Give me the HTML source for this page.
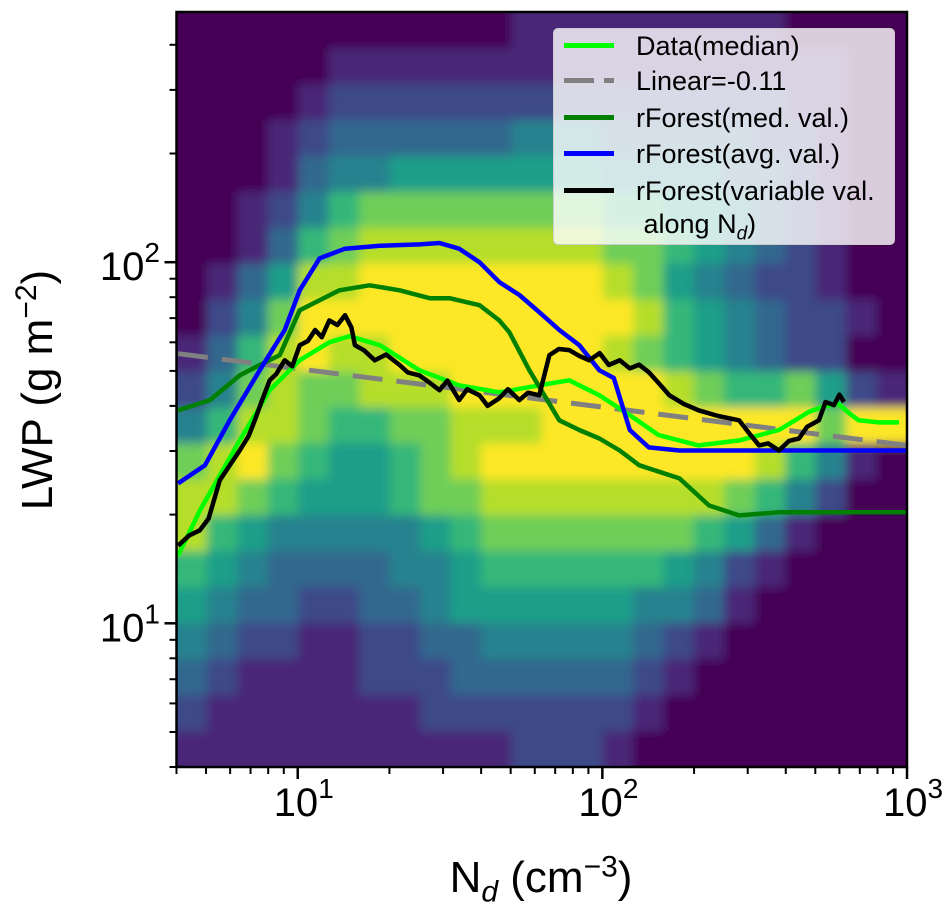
<!DOCTYPE html>
<html><head><meta charset="utf-8"><style>
body{margin:0;background:#fff;font-family:"Liberation Sans","DejaVu Sans",sans-serif}
svg{display:block}
.lg{position:absolute;left:10px;white-space:nowrap;line-height:32px}
.sw{display:inline-block;width:50px;height:5px;vertical-align:middle;margin-right:22px;position:relative;top:-2px}
</style></head><body>
<svg id="chart" width="951" height="908" xmlns="http://www.w3.org/2000/svg">
<defs><filter id="blur" x="-5%" y="-5%" width="110%" height="110%"><feGaussianBlur stdDeviation="5"/></filter>
<clipPath id="clip"><rect x="176.5" y="12" width="730.5" height="755"/></clipPath></defs>
</svg>
<script>
// heatmap grid: rows top->bottom, cols left->right, density level 0-9
const heatRows = [
"000000000001111111110000",
"000001111111111111111100",
"000012222222222222221100",
"000123333334443333322100",
"000134455555554444332100",
"001246777777776655432100",
"001367888888887765432100",
"013588999999998754322100",
"024799999999999865432210",
"136898899999998765432200",
"247877888999999987667521",
"468876677888999999999799",
"789765567899999999986410",
"887655567788888888764200",
"865444445677777776531000",
"654333344566666654210000",
"543322334555555443100000",
"432211223344444321000000",
"321111222333333210000000",
"211111112222222100000000",
"111111111112221000000000"];
const heatXmin = 4.0, heatXmax = 1000, heatYmin = 4.0, heatYmax = 493;
const viridis = ["#440154","#482878","#3e4a89","#31688e","#26828e","#1f9e89","#35b779","#6ece58","#b5de2b","#fde725"];

const limeX = [4.05,4.77,6.45,8.09,10.15,12.7,14.8,18.6,25.1,33.9,45.9,62.1,77.8,97.8,123,153,207,281,380,476,540,596,650,694,808,941];
const limeY = [15.4,20.5,32.1,44.2,53.5,60.0,62.4,58.9,50.2,45.6,43.6,45.6,47.1,42.8,37.7,33.2,31.1,32.1,34.3,38.5,40.0,40.5,38.0,36.5,36.0,36.0];
const blueX = [4.05,4.96,5.98,7.5,9.06,10.15,11.8,14.3,18.6,25.1,29.2,33.9,39.5,45.9,53.4,62.1,72.2,84.0,97.8,109,123,142,179,1000];
const blueY = [24.4,27.4,36.5,50.2,64.9,83.6,102.5,109,111,112,113,109,100,88.1,81.1,72.7,64.9,58.9,50.2,47.8,34.3,30.7,30.1,30.1];
const greenX = [4.05,5.15,6.45,7.5,8.73,10.15,11.8,13.7,17.2,21.6,27.1,31.5,39.5,45.9,49.5,57.6,72.2,84.0,97.8,114,132,179,224,281,380,1000];
const greenY = [38.9,41.5,48.6,51.9,55.3,73.6,78.5,83.6,86.3,83.6,79.5,79.5,76.0,69.0,64.0,50.2,36.5,34.3,32.5,30.1,27.4,25.2,21.2,19.9,20.3,20.3];
const blackX = [4.05,4.4,4.77,5.1,5.55,6.0,6.45,6.9,7.23,7.6,8.09,8.5,9.06,9.6,10.15,10.8,11.4,12.0,12.7,13.5,14.3,15.0,15.4,16.5,17.9,19.5,21.6,23.0,25.1,27.0,29.2,31.0,33.9,36.0,39.5,42.0,45.9,49.0,53.4,57.0,62.1,65.0,67,72,77.8,84,90.5,98,105,114,123,132,142,154,166,185,207,240,281,300,327,350,380,410,442,470,514,540,576,600,621];
const blackY = [16.4,17.5,18.1,19.5,24.9,27.5,30.1,33.0,36.5,41.0,47.1,49.0,53.5,51.5,58.9,60.5,64.9,62.0,69.0,67.0,71.3,66.0,58.9,57.0,53.5,55.5,51.9,49.5,48.6,46.5,44.2,47.0,41.5,44.5,42.8,40.0,42.0,44.5,41.5,43.5,42.8,50.0,55.3,57.5,57.1,55.0,53.5,56.0,51.9,53.5,50.8,52.0,49.6,46.0,42.8,40.5,38.9,37.5,36.5,34.0,31.1,31.5,30.1,32.0,32.5,35.0,36.5,41.0,40.2,43.0,41.0];
const linearX = [4.05,1000];
const linearY = [55.8,31.1];
const xTickVals = [10,100,1000];
const yTickVals = [10,100];

const L=176.5,R=907,T=12,B=767;
const xlo=Math.log10(4.0), xhi=Math.log10(1000), ylo=Math.log10(4.0), yhi=Math.log10(493);
const sx=v=>L+(Math.log10(v)-xlo)/(xhi-xlo)*(R-L);
const sy=v=>B-(Math.log10(v)-ylo)/(yhi-ylo)*(B-T);
const NS="http://www.w3.org/2000/svg";
const svg=document.getElementById('chart');
function mk(tag,attrs,parent){const e=document.createElementNS(NS,tag);for(const k in attrs)e.setAttribute(k,attrs[k]);(parent||svg).appendChild(e);return e;}

const bg=mk('rect',{x:L,y:T,width:R-L,height:B-T,fill:'#440154'});


const clipG=mk('g',{'clip-path':'url(#clip)'});
const heat=mk('g',{filter:'url(#blur)'},clipG);


const nr=heatRows.length, nc=heatRows[0].length;
const lx0=Math.log10(heatXmin), lx1=Math.log10(heatXmax), ly0=Math.log10(heatYmin), ly1=Math.log10(heatYmax);
for(let r=0;r<nr;r++)for(let c=0;c<nc;c++){
  let xa=sx(Math.pow(10,lx0+(lx1-lx0)*c/nc)), xb=sx(Math.pow(10,lx0+(lx1-lx0)*(c+1)/nc));
  let ya=sy(Math.pow(10,ly1-(ly1-ly0)*r/nr)), yb=sy(Math.pow(10,ly1-(ly1-ly0)*(r+1)/nr));
  if(c===0)xa-=15; if(c===nc-1)xb+=15; if(r===0)ya-=15; if(r===nr-1)yb+=15;
  const cell=mk('rect',{x:xa,y:ya,width:xb-xa+0.5,height:yb-ya+0.5,fill:viridis[+heatRows[r][c]]},heat);
  
  
}
function line(xs,ys,color,w,name,dash){
  const d=xs.map((x,i)=>(i?'L':'M')+sx(x).toFixed(1)+','+sy(ys[i]).toFixed(1)).join(' ');
  const p=mk('path',{d:d,fill:'none',stroke:color,'stroke-width':w,'stroke-linejoin':'round'},clipG);
  if(dash)p.setAttribute('stroke-dasharray',dash);
  
  
}
line(linearX,linearY,'#808080',5,'linear-fit-line','30,14');
line(limeX,limeY,'#00ff00',4.5,'data-median-line');
line(greenX,greenY,'#008000',4.5,'rforest-median-line');
line(blueX,blueY,'#0000ff',4.5,'rforest-average-line');
line(blackX,blackY,'#000000',4.5,'rforest-variable-line');

const frame=mk('rect',{x:L,y:T,width:R-L,height:B-T,fill:'none',stroke:'#000','stroke-width':2.5});


const ticks=mk('g',{stroke:'#000'});


for(let d=1;d<=1000;d*=10)for(let m=1;m<10;m++){const v=d*m;if(v<4||v>1000)continue;const x=sx(v);const len=m===1?12:7;mk('line',{x1:x,x2:x,y1:B,y2:B+len,'stroke-width':m===1?2.5:2},ticks);}
for(let d=1;d<=100;d*=10)for(let m=1;m<10;m++){const v=d*m;if(v<4||v>493)continue;const y=sy(v);const len=m===1?12:7;mk('line',{x1:L-len,x2:L,y1:y,y2:y,'stroke-width':m===1?2.5:2},ticks);}
xTickVals.forEach(v=>{const t=mk('text',{x:sx(v)+6,y:816,'text-anchor':'middle',style:'font-size:40px'});t.innerHTML='10<tspan dy="-18" style="font-size:28px">'+Math.log10(v)+'</tspan>';});
yTickVals.forEach(v=>{const t=mk('text',{x:160,y:sy(v)+18,'text-anchor':'end',style:'font-size:40px'});t.innerHTML='10<tspan dy="-18" style="font-size:28px">'+Math.log10(v)+'</tspan>';});
</script>
<div style="position:absolute;left:541px;top:880px;font-size:44px;white-space:nowrap;transform:translate(-50%,-50%);line-height:1">N<sub style="font-size:30px;font-style:italic">d</sub> (cm<sup style="font-size:30px">−3</sup>)</div>
<div style="position:absolute;left:36px;top:390px;font-size:44px;white-space:nowrap;transform:translate(-50%,-50%) rotate(-90deg);line-height:1">LWP (g m<sup style="font-size:30px">−2</sup>)</div>
<div style="position:absolute;left:553px;top:28px;width:340px;height:215px;background:rgba(255,255,255,0.8);border:1.5px solid #ccc;border-radius:5px;font-size:27px;color:#000;overflow:hidden">
  <div class="lg" style="top:1px"><span class="sw" style="background:#00ff00"></span>Data(median)</div>
  <div class="lg" style="top:36px"><span class="sw" style="background:linear-gradient(90deg,#808080 0 30px,transparent 30px 40px,#808080 40px)"></span>Linear=-0.11</div>
  <div class="lg" style="top:73px"><span class="sw" style="background:#008000"></span>rForest(med. val.)</div>
  <div class="lg" style="top:109px"><span class="sw" style="background:#0000ff"></span>rForest(avg. val.)</div>
  <div class="lg" style="top:146px"><span class="sw" style="background:#000"></span>rForest(variable val.</div>
  <div class="lg" style="left:82px;top:179px">&nbsp;along N<sub style="font-size:19px;font-style:italic">d</sub>)</div>
</div>
</body></html>
